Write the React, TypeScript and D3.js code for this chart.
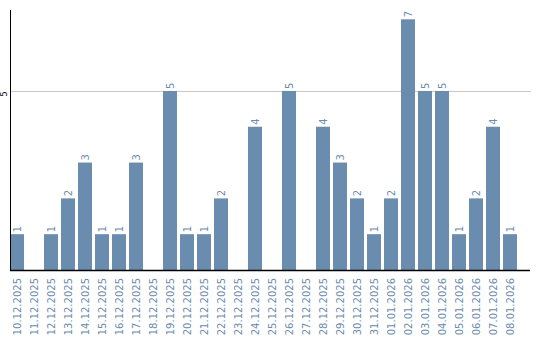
import React from "react";
import * as d3 from "d3";

const dates = [
  "10.12.2025", "11.12.2025", "12.12.2025", "13.12.2025", "14.12.2025",
  "15.12.2025", "16.12.2025", "17.12.2025", "18.12.2025", "19.12.2025",
  "20.12.2025", "21.12.2025", "22.12.2025", "23.12.2025", "24.12.2025",
  "25.12.2025", "26.12.2025", "27.12.2025", "28.12.2025", "29.12.2025",
  "30.12.2025", "31.12.2025", "01.01.2026", "02.01.2026", "03.01.2026",
  "04.01.2026", "05.01.2026", "06.01.2026", "07.01.2026", "08.01.2026",
];
const counts = [1, 0, 1, 2, 3, 1, 1, 3, 0, 5, 1, 1, 2, 0, 4, 0, 5, 0, 4, 3, 2, 1, 2, 7, 5, 5, 1, 2, 4, 1];
const yTicks = [5];

const W = 540;
const H = 340;
const left = 10;
const top = 10;
const bottom = 270;
const barColor = "#6a8caf";
const textColor = "#6b8cad";
const font = "DejaVu Sans, sans-serif";

export default function App() {
  const x = d3.scaleBand<string>().domain(dates).range([left, 517]).paddingInner(3 / 17).paddingOuter(0);
  const y = d3.scaleLinear().domain([0, 7.26]).range([bottom, top]);

  return (
    <svg width={W} height={H} style={{ position: "absolute", left: 0, top: 0, background: "#fff" }}>
      {yTicks.map((t) => (
        <g key={t}>
          <line x1={left} x2={531} y1={Math.round(y(t)) + 0.5} y2={Math.round(y(t)) + 0.5} stroke="#c8c8c8" strokeWidth={1} />
          <text
            transform={`translate(7, ${y(t) + 3}) rotate(-90)`}
            textAnchor="middle"
            fontSize={8}
            fontFamily={font}
            fill="#000"
          >
            {t}
          </text>
        </g>
      ))}
      {dates.map((d, i) => {
        const v = counts[i];
        const bx = x(d)!;
        const cx = bx + x.bandwidth() / 2;
        return (
          <g key={d}>
            {v > 0 && (
              <>
                <rect x={bx} y={y(v)} width={x.bandwidth()} height={y(0) - y(v)} fill={barColor} />
                <text
                  transform={`translate(${cx}, ${y(v) - 2}) rotate(-90)`}
                  textAnchor="start"
                  dy="0.35em"
                  fontSize={10}
                  fontFamily={font}
                  fill={textColor}
                >
                  {v}
                </text>
              </>
            )}
            <text
              transform={`translate(${cx}, 278) rotate(-90)`}
              textAnchor="end"
              dy="0.35em"
              fontSize={10}
              fontFamily={font}
              fill={textColor}
            >
              {d}
            </text>
          </g>
        );
      })}
      <line x1={left + 0.5} x2={left + 0.5} y1={top} y2={bottom + 1} stroke="#000" strokeWidth={1} />
      <line x1={left} x2={530} y1={bottom + 0.5} y2={bottom + 0.5} stroke="#000" strokeWidth={1.5} />
    </svg>
  );
}
